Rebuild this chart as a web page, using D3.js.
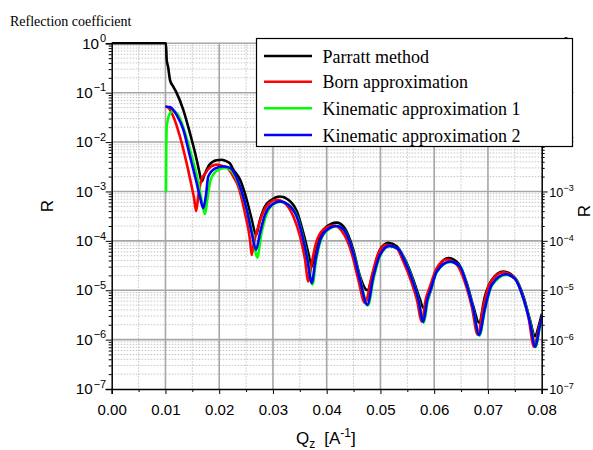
<!DOCTYPE html>
<html><head><meta charset="utf-8">
<script src="https://cdn.jsdelivr.net/npm/d3@7"></script>
<style>html,body{margin:0;padding:0;background:#fff;}svg{display:block;}</style>
</head><body>
<svg id="c" width="593" height="450"></svg>
<script>
// ---- data ----
const xTicks = [0.00,0.01,0.02,0.03,0.04,0.05,0.06,0.07,0.08];
const xTickLabels = ["0.00","0.01","0.02","0.03","0.04","0.05","0.06","0.07","0.08"];
const yDecades = [1e0,1e-1,1e-2,1e-3,1e-4,1e-5,1e-6,1e-7];
const yExponents = ["0","−1","−2","−3","−4","−5","−6","−7"];
const seriesNames = ["Parratt method","Born approximation","Kinematic approximation 1","Kinematic approximation 2"];
const seriesColors = ["#000000","#ff0000","#00ff00","#0000ff"];

const qParratt = [0,0.0101,0.01023,0.0105,0.01085,0.0115,0.0121,0.01332,0.01457,0.01581,0.0163,0.01674,0.0172,0.0182,0.0195,0.0205,0.0215,0.0220,0.0226,0.02387,0.02512,0.02605,0.02685,0.0276,0.02852,0.02977,0.0313,0.03286,0.03442,0.03565,0.03658,0.03721,0.0378,0.0385,0.0397,0.04186,0.0432,0.04495,0.0462,0.04755,0.04868,0.04992,0.05146,0.05302,0.05457,0.05612,0.05736,0.05797,0.05922,0.06047,0.06263,0.06449,0.06605,0.06728,0.06834,0.06945,0.0707,0.07285,0.07503,0.07658,0.07782,0.07875,0.0795,0.0800];
const rParratt = [1,1,0.46,0.33,0.18,0.13,0.098,0.045,0.015,0.0044,0.0025,0.0016,0.0021,0.0035,0.0043,0.0044,0.0040,0.0037,0.0028,0.00174,0.00068,0.00027,0.000132,0.00027,0.0005,0.00068,0.00079,0.00068,0.0004,0.000145,5.6e-5,3.0e-5,6.0e-5,1.12e-4,1.82e-4,2.34e-4,1.9e-4,6.6e-5,1.9e-5,1.0e-5,2.4e-5,6.6e-5,9.1e-5,7.8e-5,4.2e-5,1.62e-5,6.5e-6,4.4e-6,8.9e-6,2.6e-5,4.5e-5,3.5e-5,1.41e-5,4.7e-6,2.2e-6,7.6e-6,1.62e-5,2.4e-5,1.78e-5,7.6e-6,2.5e-6,1.17e-6,2.0e-6,3.2e-6];

const qBorn = [0.0102,0.0105,0.01146,0.0127,0.01395,0.01488,0.0153,0.0157,0.0161,0.0166,0.01736,0.0185,0.01953,0.0205,0.0215,0.0220,0.02262,0.02356,0.0248,0.02573,0.02605,0.02634,0.02727,0.0282,0.02945,0.0307,0.03224,0.0338,0.03504,0.03596,0.03658,0.0372,0.0380,0.0393,0.04123,0.0428,0.04465,0.04588,0.04712,0.04837,0.0496,0.05116,0.05302,0.05426,0.05581,0.0568,0.05767,0.0584,0.05922,0.06047,0.06233,0.06419,0.06574,0.06698,0.0681,0.06914,0.07038,0.07286,0.07472,0.07628,0.07751,0.07857,0.0795,0.0800];
const rBorn = [0.052,0.050,0.033,0.0129,0.0037,0.00126,0.00076,0.0004,0.00079,0.0016,0.0023,0.0032,0.0035,0.0033,0.0030,0.0026,0.0020,0.00126,0.00036,1.05e-4,5.2e-5,7.8e-5,1.95e-4,3.9e-4,6.0e-4,6.8e-4,5.75e-4,3.1e-4,1.23e-4,4.2e-5,1.5e-5,3.5e-5,8.9e-5,1.66e-4,2.04e-4,1.58e-4,5.6e-5,1.62e-5,5.5e-6,1.9e-5,5.6e-5,8.3e-5,7.1e-5,3.8e-5,1.41e-5,6.3e-6,2.3e-6,6.3e-6,1.2e-5,2.8e-5,4.2e-5,3.3e-5,1.41e-5,4.7e-6,1.26e-6,4.7e-6,1.41e-5,2.3e-5,1.9e-5,8.7e-6,2.95e-6,7.2e-7,1.78e-6,2.8e-6];

const qKin1 = [0.0101,0.01015,0.01023,0.0105,0.0110,0.0116,0.0123,0.01332,0.01457,0.01612,0.0168,0.01736,0.0178,0.0184,0.0195,0.02108,0.0222,0.02387,0.02512,0.02625,0.02709,0.0278,0.0287,0.0299,0.0314,0.0330,0.0345,0.0357,0.0365,0.03735,0.0380,0.0387,0.0399,0.0419,0.0433,0.0450,0.0463,0.04765,0.0488,0.0500,0.0517,0.0534,0.0547,0.0562,0.0571,0.05805,0.0588,0.0595,0.0605,0.0630,0.0649,0.0661,0.0673,0.0684,0.0695,0.0708,0.0734,0.0751,0.0766,0.0779,0.0789,0.0796,0.0800];
const rKin1 = [0.001,0.006,0.020,0.030,0.040,0.042,0.036,0.020,0.0069,0.0015,0.0006,0.00035,0.0007,0.0017,0.0026,0.0030,0.0027,0.0012,4.4e-4,1.3e-4,4.6e-5,1.3e-4,3.2e-4,5.3e-4,6.2e-4,5.3e-4,3.1e-4,1.05e-4,4.0e-5,1.3e-5,3.8e-5,8.7e-5,1.56e-4,1.95e-4,1.63e-4,5.5e-5,1.55e-5,4.9e-6,1.85e-5,5.1e-5,7.8e-5,6.7e-5,3.7e-5,1.38e-5,6.3e-6,2.2e-6,6.1e-6,1.1e-5,2.35e-5,3.75e-5,2.95e-5,1.27e-5,4.0e-6,1.2e-6,4.3e-6,1.27e-5,2.05e-5,1.68e-5,6.8e-6,2.15e-6,7.0e-7,1.7e-6,2.6e-6];

const qKin2 = [0.0102,0.01085,0.0121,0.01332,0.01457,0.01581,0.0164,0.01705,0.0175,0.01797,0.0192,0.0207,0.0220,0.02387,0.02512,0.02605,0.02685,0.0276,0.02852,0.02977,0.0313,0.03286,0.03442,0.03565,0.0364,0.03721,0.0379,0.0386,0.0398,0.0418,0.0432,0.04495,0.0462,0.04756,0.04868,0.04992,0.05165,0.05333,0.05457,0.05612,0.05705,0.05797,0.0587,0.05945,0.06047,0.06294,0.0648,0.06605,0.06728,0.06834,0.06945,0.0707,0.0733,0.07503,0.07658,0.07782,0.07881,0.0796,0.0800];
const rKin2 = [0.052,0.051,0.035,0.0178,0.0051,0.00148,0.00079,0.00046,0.00079,0.0020,0.0029,0.0032,0.0030,0.00126,4.3e-4,1.45e-4,6.6e-5,1.45e-4,3.4e-4,5.4e-4,6.3e-4,5.4e-4,3.1e-4,1.05e-4,4.2e-5,1.41e-5,4.0e-5,8.9e-5,1.58e-4,2.0e-4,1.66e-4,5.6e-5,1.62e-5,5.1e-6,1.9e-5,5.2e-5,7.9e-5,6.8e-5,3.8e-5,1.41e-5,6.5e-6,2.3e-6,6.3e-6,1.12e-5,2.4e-5,3.8e-5,3.0e-5,1.29e-5,4.1e-6,1.26e-6,4.4e-6,1.29e-5,2.1e-5,1.7e-5,6.9e-6,2.2e-6,7.2e-7,1.78e-6,2.8e-6];

// ---- layout ----
const svg = d3.select("#c");
const L = 111.7, R = 541.7, T = 43.3, B = 389;
const x = d3.scaleLinear().domain([0,0.08]).range([L,R]);
const y = d3.scaleLog().domain([1e-7,1]).range([B,T]);

const minorY = [];
for (let e=-7; e<0; e++) for (let k=2; k<=9; k++) minorY.push(k*Math.pow(10,e));
const minorX = [0.005,0.015,0.025,0.035,0.045,0.055,0.065,0.075];

// grid
const grid = svg.append("g");
grid.selectAll(".mx").data(minorX).enter().append("line")
  .attr("x1",d=>x(d)).attr("x2",d=>x(d)).attr("y1",T).attr("y2",B)
  .attr("stroke","#c4c4c4").attr("stroke-width",1).attr("stroke-dasharray","1.5,1.5");
grid.selectAll(".my").data(minorY).enter().append("line")
  .attr("y1",d=>y(d)).attr("y2",d=>y(d)).attr("x1",L).attr("x2",R)
  .attr("stroke","#c4c4c4").attr("stroke-width",1).attr("stroke-dasharray","1.5,1.5");
grid.selectAll(".Mx").data(xTicks.slice(1,-1)).enter().append("line")
  .attr("x1",d=>x(d)).attr("x2",d=>x(d)).attr("y1",T).attr("y2",B)
  .attr("stroke","#a6a6a6").attr("stroke-width",1.6);
grid.selectAll(".My").data(yDecades.slice(0,-1)).enter().append("line")
  .attr("y1",d=>y(d)).attr("y2",d=>y(d)).attr("x1",L).attr("x2",R)
  .attr("stroke","#a6a6a6").attr("stroke-width",1.6);

// curves
svg.append("clipPath").attr("id","clip").append("rect")
  .attr("x",L).attr("y",T-3).attr("width",R-L).attr("height",B-T+3);
const line = d3.line().x(d=>x(d[0])).y(d=>y(d[1])).curve(d3.curveMonotoneX);
const series = [
  d3.zip(qParratt,rParratt), d3.zip(qBorn,rBorn), d3.zip(qKin1,rKin1), d3.zip(qKin2,rKin2)
];
const cg = svg.append("g").attr("clip-path","url(#clip)");
series.forEach((s,i)=>{
  cg.append("path").attr("d",line(s)).attr("fill","none")
    .attr("stroke",seriesColors[i]).attr("stroke-width",2.6)
    .attr("stroke-linejoin","round").attr("stroke-linecap","round");
});

// axes
const font = "'Liberation Sans', Arial, sans-serif";
const ax = svg.append("g").attr("transform",`translate(0,${B})`)
  .call(d3.axisBottom(x).tickValues(xTicks).tickFormat((d,i)=>xTickLabels[i]).tickSize(5).tickPadding(10));
ax.select(".domain").attr("stroke-width",1.5);
ax.selectAll("text").attr("font-family",font).attr("font-size",15).attr("fill","#000");
svg.append("g").attr("transform",`translate(0,${B})`)
  .call(d3.axisBottom(x).tickValues(minorX).tickFormat("").tickSize(3))
  .select(".domain").remove();

function yAxisSide(axisFn, xpos, labelLeft, fs, sfs, sdy){
  const g = svg.append("g").attr("transform",`translate(${xpos},0)`)
    .call(axisFn(y).tickValues(yDecades).tickFormat("").tickSize(6));
  g.select(".domain").attr("stroke-width",1.5);
  svg.append("g").attr("transform",`translate(${xpos},0)`)
    .call(axisFn(y).tickValues(minorY).tickFormat("").tickSize(3))
    .select(".domain").remove();
  const t = svg.append("g").selectAll("text").data(yDecades).enter().append("text")
    .attr("x", labelLeft ? xpos-5.5 : xpos+7.6)
    .attr("y", d=>y(d)+5.2)
    .attr("text-anchor", labelLeft ? "end" : "start")
    .attr("font-family",font).attr("font-size",fs).attr("fill","#000");
  t.append("tspan").text("10");
  t.append("tspan").attr("dy",sdy).attr("dx",labelLeft?1:0.3).attr("font-size",sfs).text((d,i)=>yExponents[i]);
}
yAxisSide(d3.axisLeft, L, true, 15.2, 11, -6.5);
yAxisSide(d3.axisRight, R, false, 12.6, 9, -5.2);

// axis titles
svg.append("text").attr("transform","translate(53,206) rotate(-90)")
  .attr("text-anchor","middle").attr("font-family",font).attr("font-size",17).text("R");
svg.append("text").attr("transform","translate(590,211) rotate(-90)")
  .attr("text-anchor","middle").attr("font-family",font).attr("font-size",17).text("R");
const xt = svg.append("text").attr("x",296).attr("y",444)
  .attr("font-family",font).attr("font-size",17).attr("fill","#000");
xt.append("tspan").text("Q");
xt.append("tspan").attr("dy",4).attr("font-size",12).text("z");
xt.append("tspan").attr("dy",-4).attr("dx",9).text("[A");
xt.append("tspan").attr("dy",-7).attr("font-size",12).text("-1");
xt.append("tspan").attr("dy",7).text("]");

svg.append("text").attr("x",10).attr("y",25.5)
  .attr("font-family","'Liberation Serif', 'Times New Roman', serif").attr("font-size",14)
  .text("Reflection coefficient");

// legend
const lg = svg.append("g");
lg.append("rect").attr("x",256.5).attr("y",38.5).attr("width",316).attr("height",108)
  .attr("fill","#fff").attr("stroke","#000").attr("stroke-width",1.2);
const rowsY = [56,81.7,108.3,135];
seriesNames.forEach((n,i)=>{
  lg.append("line").attr("x1",264).attr("x2",312).attr("y1",rowsY[i]).attr("y2",rowsY[i])
    .attr("stroke",seriesColors[i]).attr("stroke-width",2.6);
  lg.append("text").attr("x",322.5).attr("y",rowsY[i]+6.5)
    .attr("font-family","'Liberation Serif', 'Times New Roman', serif").attr("font-size",18)
    .attr("fill","#000").text(n);
});
</script>
</body></html>
